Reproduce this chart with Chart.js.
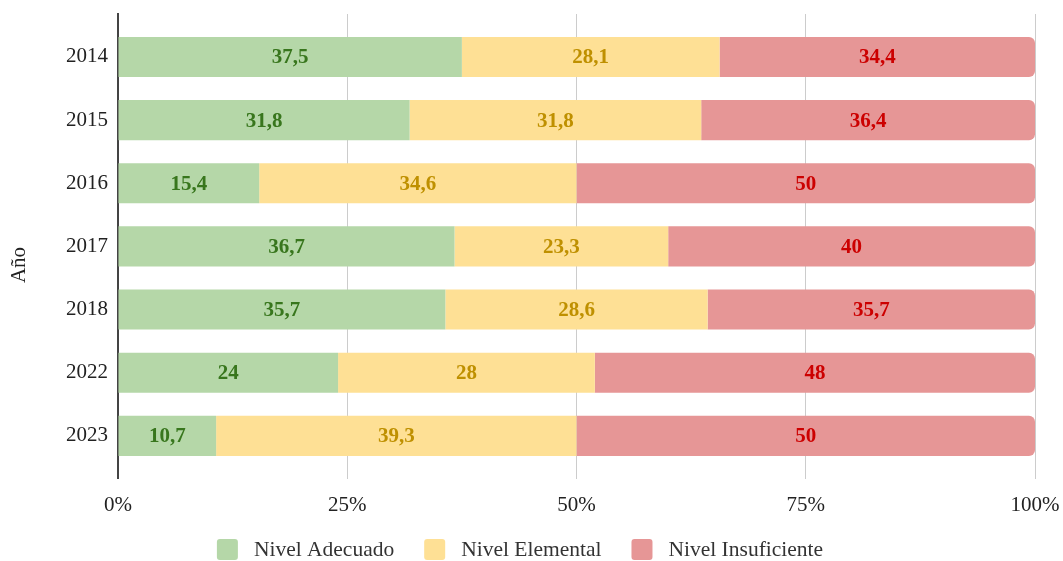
<!DOCTYPE html>
<html>
<head>
<meta charset="utf-8">
<script src="https://cdn.jsdelivr.net/npm/chart.js@4.4.1/dist/chart.umd.min.js"></script>
<style>
  html, body { margin: 0; padding: 0; background: #ffffff; }
  #wrap { width: 1063px; height: 561px; }
</style>
</head>
<body>
<div id="wrap"><canvas id="c" width="1063" height="561"></canvas></div>
<script>
// Años evaluados
const years = ['2014', '2015', '2016', '2017', '2018', '2022', '2023'];
// Porcentaje de estudiantes por nivel de logro
const adecuado    = [37.5, 31.8, 15.4, 36.7, 35.7, 24, 10.7];
const elemental   = [28.1, 31.8, 34.6, 23.3, 28.6, 28, 39.3];
const insuficiente = [34.4, 36.4, 50, 40, 35.7, 48, 50];
// Marcas del eje de porcentaje
const xTicks = [0, 25, 50, 75, 100];
const yTitle = 'Año';

const FONT = "'Liberation Serif', 'Times New Roman', serif";

const toPoints = arr => arr.map((v, i) => ({ x: v, y: i }));
const fmt = v => String(v).replace('.', ',');

// Etiquetas de valor centradas en cada segmento
const valueLabels = {
  id: 'valueLabels',
  afterDatasetsDraw(chart) {
    const ctx = chart.ctx;
    ctx.save();
    ctx.font = 'bold 21px ' + FONT;
    ctx.textAlign = 'center';
    ctx.textBaseline = 'middle';
    chart.data.datasets.forEach((ds, di) => {
      const meta = chart.getDatasetMeta(di);
      if (meta.hidden) return;
      ctx.fillStyle = ds.labelColor;
      meta.data.forEach((el, i) => {
        const c = el.getCenterPoint();
        ctx.fillText(fmt(ds.data[i].x), c.x, c.y + 1);
      });
    });
    ctx.restore();
  }
};

// Título vertical del eje de años
const axisTitle = {
  id: 'axisTitle',
  afterDraw(chart) {
    const ctx = chart.ctx;
    ctx.save();
    ctx.translate(19, 265);
    ctx.rotate(-Math.PI / 2);
    ctx.font = '21px ' + FONT;
    ctx.fillStyle = '#222';
    ctx.textAlign = 'center';
    ctx.textBaseline = 'middle';
    ctx.fillText(yTitle, 0, 0);
    ctx.restore();
  }
};

// Leyenda inferior: cuadro de color + nombre del nivel
const bottomLegend = {
  id: 'bottomLegend',
  afterDraw(chart) {
    const ctx = chart.ctx;
    const box = 21, gapText = 16, gapItem = 30;
    const centerX = 520, boxTop = 539;
    ctx.save();
    ctx.font = '21.5px ' + FONT;
    ctx.textBaseline = 'middle';
    ctx.textAlign = 'left';
    const items = chart.data.datasets.map(ds => ({
      text: ds.label, color: ds.backgroundColor, w: ctx.measureText(ds.label).width
    }));
    const total = items.reduce((s, it) => s + box + gapText + it.w, 0) + gapItem * (items.length - 1);
    let x = centerX - total / 2;
    items.forEach(it => {
      ctx.fillStyle = it.color;
      ctx.beginPath();
      ctx.roundRect(x, boxTop, box, box, 3);
      ctx.fill();
      ctx.fillStyle = '#333';
      ctx.fillText(it.text, x + box + gapText, boxTop + box / 2 + 1);
      x += box + gapText + it.w + gapItem;
    });
    ctx.restore();
  }
};

new Chart(document.getElementById('c'), {
  type: 'bar',
  data: {
    datasets: [
      { label: 'Nivel Adecuado', data: toPoints(adecuado), backgroundColor: '#b5d7a8', labelColor: '#38761d', borderRadius: 0 },
      { label: 'Nivel Elemental', data: toPoints(elemental), backgroundColor: '#fee095', labelColor: '#bf9000', borderRadius: 0 },
      { label: 'Nivel Insuficiente', data: toPoints(insuficiente), backgroundColor: '#e69696', labelColor: '#cc0000', borderRadius: 6 }
    ]
  },
  options: {
    indexAxis: 'y',
    responsive: false,
    animation: false,
    categoryPercentage: 0.635,
    barPercentage: 1,
    layout: { padding: { top: 14, right: 28, left: 56, bottom: 29 } },
    scales: {
      x: {
        type: 'linear',
        stacked: true,
        min: 0,
        max: 100,
        afterBuildTicks(scale) { scale.ticks = xTicks.map(v => ({ value: v })); },
        afterFit(scale) { scale.paddingLeft = 0; scale.paddingRight = 0; },
        ticks: {
          callback: v => v + '%',
          color: '#222',
          font: { family: FONT, size: 21 },
          padding: 14
        },
        grid: { color: '#cccccc', lineWidth: 1, drawTicks: false },
        border: { display: false }
      },
      y: {
        type: 'linear',
        stacked: true,
        reverse: true,
        offset: false,
        min: -0.68,
        max: 6.68,
        afterBuildTicks(scale) { scale.ticks = years.map((_, i) => ({ value: i })); },
        afterFit(scale) { scale.paddingTop = 0; scale.paddingBottom = 0; },
        ticks: {
          callback: v => years[v],
          color: '#222',
          font: { family: FONT, size: 21 },
          padding: 10
        },
        grid: { display: false, drawTicks: false },
        border: { display: true, color: '#444', width: 2 }
      }
    },
    plugins: {
      legend: { display: false },
      tooltip: { enabled: false }
    }
  },
  plugins: [valueLabels, axisTitle, bottomLegend]
});
</script>
</body>
</html>
